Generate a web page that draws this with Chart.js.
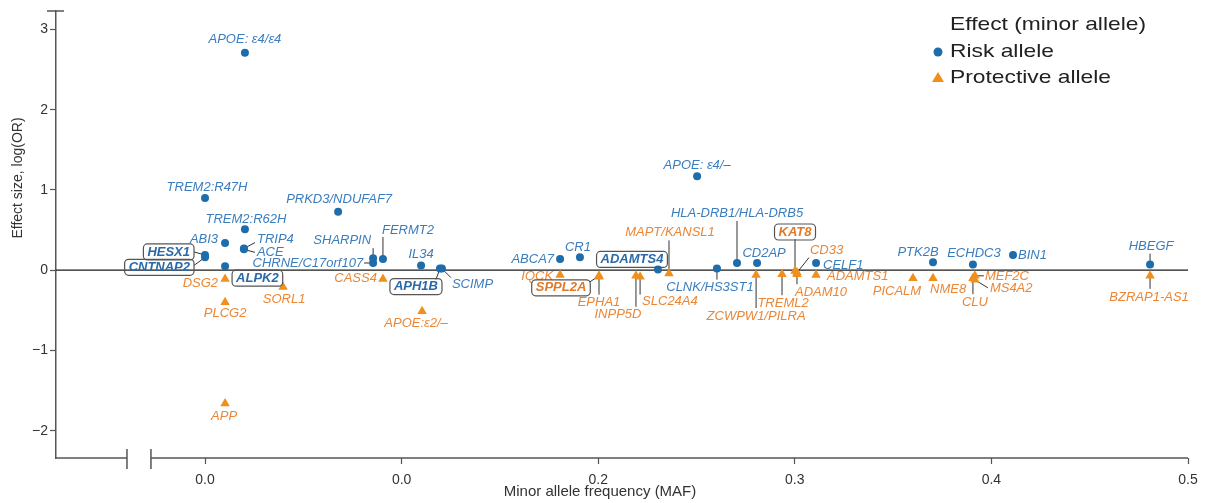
<!DOCTYPE html>
<html>
<head>
<meta charset="utf-8">
<script src="https://cdn.jsdelivr.net/npm/chart.js@4.4.0/dist/chart.umd.min.js"></script>
<style>
  html, body { margin: 0; padding: 0; background: #fff; }
  #wrap { width: 1208px; height: 503px; position: relative; }
</style>
</head>
<body>
<div id="wrap"><canvas id="mafChart"></canvas></div>
<script>
// Risk allele loci (blue dots)
const riskNames = ['APOE: ε4/ε4', 'TREM2:R47H', 'PRKD3/NDUFAF7', 'TREM2:R62H', 'ABI3', 'TRIP4', 'ACE',
  'HESX1', 'CNTNAP2', 'ALPK2', 'SHARPIN', 'CHRNE/C17orf107', 'FERMT2', 'IL34', 'SCIMP', 'APH1B',
  'ABCA7', 'CR1', 'ADAMTS4', 'APOE: ε4/–', 'HLA-DRB1/HLA-DRB5', 'CLNK/HS3ST1', 'CD2AP', 'CELF1',
  'PTK2B', 'ECHDC3', 'BIN1', 'HBEGF'];
const riskMaf = [0.0203, 0.0, 0.0677, 0.0203, 0.0102, 0.0198, 0.0198,
  0.0, 0.0, 0.0102, 0.0855, 0.0855, 0.0905, 0.1099, 0.1205, 0.1195,
  0.1806, 0.1907, 0.2304, 0.2503, 0.2706, 0.2604, 0.2808, 0.3108,
  0.3703, 0.3906, 0.4110, 0.4807];
const riskLogOR = [2.71, 0.90, 0.73, 0.51, 0.34, 0.27, 0.26,
  0.19, 0.16, 0.05, 0.15, 0.09, 0.14, 0.06, 0.02, 0.02,
  0.14, 0.16, 0.01, 1.17, 0.09, 0.02, 0.09, 0.09,
  0.10, 0.07, 0.19, 0.07];

// Protective allele loci (orange triangles)
const protNames = ['DSG2', 'PLCG2', 'SORL1', 'CASS4', 'APOE:ε2/–', 'APP', 'IQCK', 'SPPL2A', 'EPHA1',
  'INPP5D', 'SLC24A4', 'MAPT/KANSL1', 'ZCWPW1/PILRA', 'TREML2', 'ADAM10', 'KAT8', 'CD33', 'ADAMTS1',
  'PICALM', 'NME8', 'CLU', 'MEF2C', 'MS4A2', 'BZRAP1-AS1'];
const protMaf = [0.0102, 0.0102, 0.0397, 0.0905, 0.1104, 0.0102, 0.1806, 0.2004, 0.2004,
  0.2192, 0.2213, 0.2360, 0.2803, 0.2935, 0.3011, 0.3001, 0.3011, 0.3108,
  0.3601, 0.3703, 0.3906, 0.3916, 0.3916, 0.4807];
const protLogOR = [-0.11, -0.40, -0.21, -0.11, -0.51, -1.66, -0.06, -0.07, -0.08,
  -0.07, -0.08, -0.04, -0.06, -0.05, -0.05, -0.01, -0.03, -0.06,
  -0.10, -0.10, -0.10, -0.07, -0.12, -0.07];

// novel loci drawn in a box
const boxedGenes = ['HESX1', 'CNTNAP2', 'ALPK2', 'APH1B', 'ADAMTS4', 'SPPL2A', 'KAT8'];

const xTickValues = [0, 0.1, 0.2, 0.3, 0.4, 0.5];
const xTickLabels = ['0.0', '0.0', '0.2', '0.3', '0.4', '0.5'];
const yTickValues = [-2, -1, 0, 1, 2, 3];
const axisBreak = [-0.0397, -0.0275];

const FONT = "'Liberation Sans', Arial, Helvetica, sans-serif";
const BLUE = '#1d6dad';
const BLUE_TEXT = '#3a7dbd';
const ORANGE = '#f0901c';
const ORANGE_TEXT = '#ea8636';

// label placement: [dx, dy, align, leaderDx, leaderDy] in pixels from the point
const labelLayout = {
  'APOE: ε4/ε4': [0, -13, 'center'],
  'TREM2:R47H': [2, -11, 'center'],
  'PRKD3/NDUFAF7': [1, -12, 'center'],
  'TREM2:R62H': [1, -10, 'center'],
  'ABI3': [-7, -4, 'right'],
  'TRIP4': [13, -9, 'left', 11, -6],
  'ACE': [13, 3, 'left', 11, 3],
  'HESX1': [-15, -3, 'right', -11, -3],
  'CNTNAP2': [-15, 10, 'right', -11, 8],
  'ALPK2': [11, 12, 'left'],
  'SHARPIN': [-2, -18, 'right', 0, -10],
  'CHRNE/C17orf107': [-10, 0, 'right', -9, 0],
  'FERMT2': [-1, -29, 'left', 0, -22],
  'IL34': [0, -11, 'center'],
  'SCIMP': [10, 16, 'left', 9, 9],
  'APH1B': [-24, 18, 'center', -4, 11],
  'ABCA7': [-6, 0, 'right'],
  'CR1': [-2, -10, 'center'],
  'ADAMTS4': [-26, -10, 'center'],
  'APOE: ε4/–': [0, -11, 'center'],
  'HLA-DRB1/HLA-DRB5': [0, -50, 'center', 0, -42],
  'CLNK/HS3ST1': [-7, 19, 'center', 0, 11],
  'CD2AP': [7, -10, 'center'],
  'CELF1': [7, 2, 'left'],
  'PTK2B': [-15, -10, 'center'],
  'ECHDC3': [1, -11, 'center'],
  'BIN1': [5, 0, 'left'],
  'HBEGF': [1, -18, 'center', 0, -11],
  'DSG2': [-7, 4, 'right'],
  'PLCG2': [0, 11, 'center'],
  'SORL1': [1, 12, 'center'],
  'CASS4': [-6, -1, 'right'],
  'APOE:ε2/–': [-6, 12, 'center'],
  'APP': [-1, 13, 'center'],
  'IQCK': [-7, 1, 'right'],
  'SPPL2A': [-38, 12, 'center', -9, 6],
  'EPHA1': [0, 26, 'center', 0, 18],
  'INPP5D': [-18, 39, 'center', 0, 31],
  'SLC24A4': [2, 25, 'left', 0, 18],
  'MAPT/KANSL1': [1, -41, 'center', 0, -33],
  'ZCWPW1/PILRA': [0, 41, 'center', 0, 33],
  'TREML2': [1, 29, 'center', 0, 21],
  'ADAM10': [-2, 18, 'left', 0, 10],
  'KAT8': [0, -39, 'center', 0, -32],
  'CD33': [13, -22, 'left', 12, -15],
  'ADAMTS1': [11, 1, 'left'],
  'PICALM': [-16, 13, 'center'],
  'NME8': [-3, 11, 'left'],
  'CLU': [2, 24, 'center', 0, 16],
  'MEF2C': [10, 1, 'left', 9, 0],
  'MS4A2': [15, 9, 'left', 13, 8],
  'BZRAP1-AS1': [-1, 22, 'center', 0, 13]
};

function toPoints(xs, ys) {
  return xs.map((x, i) => ({ x: x, y: ys[i] }));
}

// axes decorations: zero line, broken x axis, top cap of y axis, gene labels
const axisDecor = {
  id: 'axisDecor',
  beforeDatasetsDraw(chart) {
    const ctx = chart.ctx;
    const xs = chart.scales.x, ys = chart.scales.y;
    const area = chart.chartArea;
    const y0 = ys.getPixelForValue(0);
    const b1 = xs.getPixelForValue(axisBreak[0]);
    const b2 = xs.getPixelForValue(axisBreak[1]);
    ctx.save();
    ctx.strokeStyle = '#1a1a1a';
    ctx.lineWidth = 1.3;
    ctx.beginPath();
    ctx.moveTo(area.left, y0);
    ctx.lineTo(area.right, y0);
    ctx.stroke();

    ctx.strokeStyle = '#555';
    ctx.lineWidth = 1.5;
    ctx.beginPath();
    ctx.moveTo(area.left, area.bottom);
    ctx.lineTo(b1, area.bottom);
    ctx.moveTo(b2, area.bottom);
    ctx.lineTo(area.right, area.bottom);
    ctx.moveTo(b1, area.bottom - 9);
    ctx.lineTo(b1, area.bottom + 11);
    ctx.moveTo(b2, area.bottom - 9);
    ctx.lineTo(b2, area.bottom + 11);
    ctx.moveTo(area.left - 9, area.top);
    ctx.lineTo(area.left + 8, area.top);
    ctx.stroke();

    // leader lines from points to their labels
    ctx.strokeStyle = '#333';
    ctx.lineWidth = 1;
    chart.data.datasets.forEach((ds, di) => {
      chart.getDatasetMeta(di).data.forEach((pt, i) => {
        const lay = labelLayout[ds.names[i]];
        if (!lay || lay[3] === undefined) return;
        ctx.beginPath();
        ctx.moveTo(pt.x, pt.y);
        ctx.lineTo(pt.x + lay[3], pt.y + lay[4]);
        ctx.stroke();
      });
    });
    ctx.restore();
  },
  afterDatasetsDraw(chart) {
    const ctx = chart.ctx;
    ctx.save();
    ctx.textBaseline = 'middle';
    chart.data.datasets.forEach((ds, di) => {
      chart.getDatasetMeta(di).data.forEach((pt, i) => {
        const name = ds.names[i];
        const lay = labelLayout[name];
        if (!lay) return;
        const boxed = boxedGenes.includes(name);
        const tx = pt.x + lay[0], ty = pt.y + lay[1];
        ctx.font = (boxed ? 'italic bold ' : 'italic ') + '13px ' + FONT;
        ctx.textAlign = lay[2];
        ctx.fillStyle = boxed ? ds.boxTextColor : ds.textColor;
        ctx.fillText(name, tx, ty);
        if (boxed) {
          const w = ctx.measureText(name).width;
          let left = tx;
          if (lay[2] === 'center') left = tx - w / 2;
          if (lay[2] === 'right') left = tx - w;
          ctx.strokeStyle = '#555';
          ctx.lineWidth = 1.2;
          ctx.beginPath();
          ctx.roundRect(left - 4, ty - 8, w + 8, 16, 4);
          ctx.stroke();
        }
      });
    });
    ctx.restore();
  },
  afterDraw(chart) {
    const ctx = chart.ctx;
    ctx.save();
    ctx.fillStyle = '#333';
    ctx.font = '15px ' + FONT;
    ctx.textAlign = 'center';
    ctx.textBaseline = 'middle';
    ctx.fillText('Minor allele frequency (MAF)', 600, 492);
    ctx.font = '14px ' + FONT;
    ctx.translate(18, 178);
    ctx.rotate(-Math.PI / 2);
    ctx.fillText('Effect size, log(OR)', 0, 0);
    ctx.restore();

    // legend (text is drawn a bit wide, like the original)
    ctx.save();
    ctx.fillStyle = '#222';
    ctx.font = '19px ' + FONT;
    ctx.textAlign = 'left';
    ctx.textBaseline = 'middle';
    ctx.save();
    ctx.translate(950, 0);
    ctx.scale(1.2, 1);
    ctx.fillText('Effect (minor allele)', 0, 25);
    ctx.fillText('Risk allele', 0, 52);
    ctx.fillText('Protective allele', 0, 78);
    ctx.restore();
    ctx.fillStyle = BLUE;
    ctx.beginPath();
    ctx.arc(938, 52, 4.5, 0, Math.PI * 2);
    ctx.fill();
    ctx.fillStyle = ORANGE;
    ctx.beginPath();
    ctx.moveTo(938, 72);
    ctx.lineTo(944, 82);
    ctx.lineTo(932, 82);
    ctx.closePath();
    ctx.fill();
    ctx.restore();
  }
};

function drawEffectChart() {
  const ctx = document.getElementById('mafChart').getContext('2d');
  new Chart(ctx, {
    type: 'scatter',
    data: {
      datasets: [{
        label: 'Risk allele',
        names: riskNames,
        textColor: BLUE_TEXT,
        boxTextColor: '#2a6aa8',
        data: toPoints(riskMaf, riskLogOR),
        pointStyle: 'circle',
        pointRadius: 4,
        backgroundColor: BLUE,
        borderWidth: 0
      }, {
        label: 'Protective allele',
        names: protNames,
        textColor: ORANGE_TEXT,
        boxTextColor: '#e07a28',
        data: toPoints(protMaf, protLogOR),
        pointStyle: 'triangle',
        pointRadius: 5.5,
        backgroundColor: ORANGE,
        borderWidth: 0
      }]
    },
    options: {
      responsive: true,
      maintainAspectRatio: false,
      animation: false,
      devicePixelRatio: 1,
      layout: { padding: { top: 11, right: 20, left: 0, bottom: 0 } },
      plugins: {
        legend: { display: false },
        tooltip: { enabled: false }
      },
      scales: {
        x: {
          type: 'linear',
          min: -0.0758,
          max: 0.5,
          afterBuildTicks: function (scale) {
            scale.ticks = xTickValues.map(v => ({ value: v }));
          },
          afterFit: function (scale) {
            scale.height = 45;
            scale.paddingLeft = 0;
            scale.paddingRight = 0;
          },
          ticks: {
            autoSkip: false,
            maxRotation: 0,
            padding: 8,
            color: '#333',
            font: { size: 14, family: FONT },
            callback: function (value, index) {
              return xTickLabels[index];
            }
          },
          grid: { drawOnChartArea: false, tickLength: 6, tickColor: '#555', tickWidth: 1.2 },
          border: { display: false }
        },
        y: {
          min: -2.34,
          max: 3.23,
          afterBuildTicks: function (scale) {
            scale.ticks = yTickValues.map(v => ({ value: v }));
          },
          afterFit: function (scale) {
            scale.width = 56;
            scale.paddingTop = 0;
            scale.paddingBottom = 0;
          },
          ticks: {
            padding: 2,
            color: '#333',
            font: { size: 14, family: FONT },
            callback: function (value) {
              return value < 0 ? '\u2212' + Math.abs(value) : String(value);
            }
          },
          grid: { drawOnChartArea: false, tickLength: 6, tickColor: '#555', tickWidth: 1.2 },
          border: { display: true, color: '#555', width: 1.5 }
        }
      }
    },
    plugins: [axisDecor]
  });
}

document.addEventListener('DOMContentLoaded', drawEffectChart);
</script>
</body>
</html>
